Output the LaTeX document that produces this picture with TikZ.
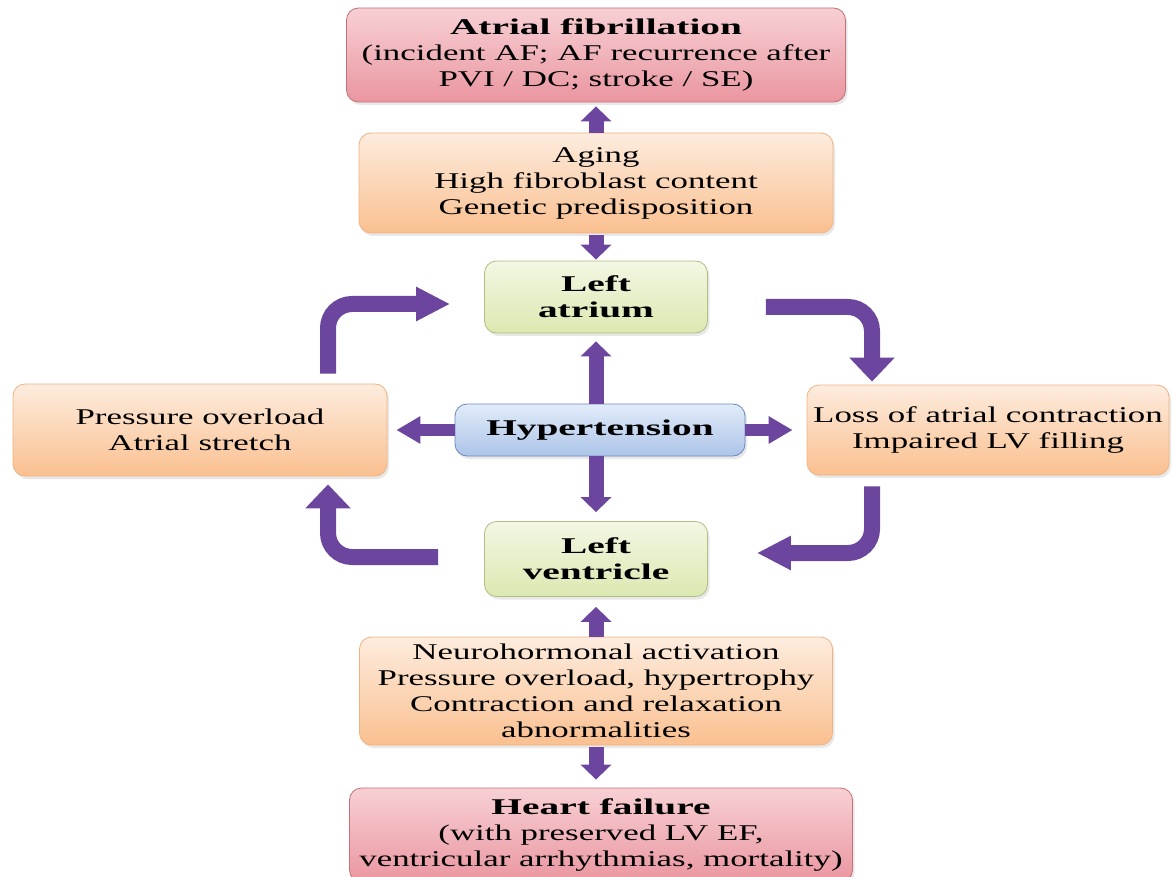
\documentclass[tikz,border=0pt]{standalone}
\usepackage{fontspec}
\setmainfont{Liberation Serif}[FakeStretch=1.55]
\newfontfamily\headfont{Liberation Serif}[FakeStretch=1.75]
\usepackage{tikz}
\usetikzlibrary{arrows.meta, shadows}
\usepackage{xcolor}
\definecolor{flowpurple}{RGB}{108,70,158}
\definecolor{redtop}{RGB}{247,208,212}
\definecolor{redbot}{RGB}{234,150,160}
\definecolor{redline}{RGB}{196,112,120}
\definecolor{orangetop}{RGB}{253,236,222}
\definecolor{orangebot}{RGB}{250,192,144}
\definecolor{orangeline}{RGB}{240,178,128}
\definecolor{greentop}{RGB}{243,247,228}
\definecolor{greenbot}{RGB}{220,232,176}
\definecolor{greenline}{RGB}{176,192,130}
\definecolor{bluetop}{RGB}{226,236,250}
\definecolor{bluebot}{RGB}{172,196,232}
\definecolor{blueline}{RGB}{104,136,186}
\newcommand{\hd}[1]{{\headfont\bfseries #1}}

\begin{document}
\begin{tikzpicture}[x=1pt, y=-1pt, font=\fontsize{22.5}{26}\selectfont,
    box/.style={rounded corners=12pt, align=center, inner sep=0pt, line width=0.8pt,
      drop shadow={opacity=0.18, shadow xshift=2pt, shadow yshift=-3pt}},
    outcome box/.style={box, draw=redline, top color=redtop, bottom color=redbot},
    factor box/.style={box, draw=orangeline, top color=orangetop, bottom color=orangebot},
    chamber box/.style={box, draw=greenline, top color=greentop, bottom color=greenbot},
    cause box/.style={box, draw=blueline, top color=bluetop, bottom color=bluebot},
    flow arrow/.style={draw=flowpurple, line width=15pt, -{Triangle[width=30pt,length=15pt]}},
    side arrow/.style={draw=flowpurple, line width=12pt, -{Triangle[width=26pt,length=24pt]}},
    loop h/.style={draw=flowpurple, line width=16pt, rounded corners=24pt, -{Triangle[width=32pt,length=34pt]}},
    loop v/.style={draw=flowpurple, line width=16pt, rounded corners=24pt, -{Triangle[width=44pt,length=24pt]}}]
    \useasboundingbox (0,0) rectangle (1173,877);
    \fill[white] (0,0) rectangle (1173,877);

    % middle column
    \node[outcome box, minimum width=499pt, minimum height=94pt] (af) at (596,55)
      {\hd{Atrial fibrillation}\\(incident AF; AF recurrence after\\PVI / DC; stroke / SE)};
    \node[factor box, minimum width=474pt, minimum height=100pt] (risk) at (596,183)
      {Aging\\High fibroblast content\\Genetic predisposition};
    \node[chamber box, minimum width=223pt, minimum height=72pt] (la) at (596,297)
      {\hd{Left}\\\hd{atrium}};
    \node[cause box, minimum width=290pt, minimum height=52pt] (htn) at (600,430)
      {\hd{Hypertension}};
    \node[chamber box, minimum width=223pt, minimum height=75pt] (lv) at (596,559)
      {\hd{Left}\\\hd{ventricle}};
    \node[factor box, minimum width=473pt, minimum height=108pt] (neuro) at (596,691)
      {Neurohormonal activation\\Pressure overload, hypertrophy\\Contraction and relaxation\\abnormalities};
    \node[outcome box, minimum width=503pt, minimum height=94pt] (hf) at (601,835)
      {\hd{Heart failure}\\(with preserved LV EF,\\ventricular arrhythmias, mortality)};

    % side boxes
    \node[factor box, minimum width=374pt, minimum height=92pt] (pres) at (200,430)
      {Pressure overload\\Atrial stretch};
    \node[factor box, minimum width=362pt, minimum height=90pt] (loss) at (988,430)
      {Loss of atrial contraction\\Impaired LV filling};

    % straight arrows
    \draw[flow arrow, shorten >=4pt] (risk.north) -- (af.south);
    \draw[flow arrow, shorten <=2pt, shorten >=1pt] (risk.south) -- (la.north);
    \draw[flow arrow, shorten >=8pt] (htn.north -| la.south) -- (la.south);
    \draw[flow arrow, shorten >=9pt] (htn.south -| lv.north) -- (lv.north);
    \draw[flow arrow, shorten >=10pt] (neuro.north) -- (lv.south);
    \draw[flow arrow, shorten <=2pt, shorten >=8pt] (neuro.south) -- (neuro.south |- hf.north);
    \draw[side arrow, shorten >=9pt] (htn.west) -- (pres.east);
    \draw[side arrow, shorten >=14pt] (htn.east) -- (loss.west);

    % loop round the chambers
    \coordinate (lx) at (328,0);
    \coordinate (rx) at (872,0);
    \draw[loop h, shorten <=10pt, shorten >=34pt] (pres.north -| lx) |- ([yshift=-7pt]la.west);
    \draw[loop v, shorten <=58pt, shorten >=3pt] ([yshift=-10pt]la.east) -| (loss.north -| rx);
    \draw[loop h, shorten <=11pt, shorten >=49pt] (loss.south -| rx) |- ([yshift=6pt]lv.east);
    \draw[loop v, shorten <=46pt, shorten >=8pt] ([yshift=2pt]lv.west) -| (pres.south -| lx);
\end{tikzpicture}
\end{document}
